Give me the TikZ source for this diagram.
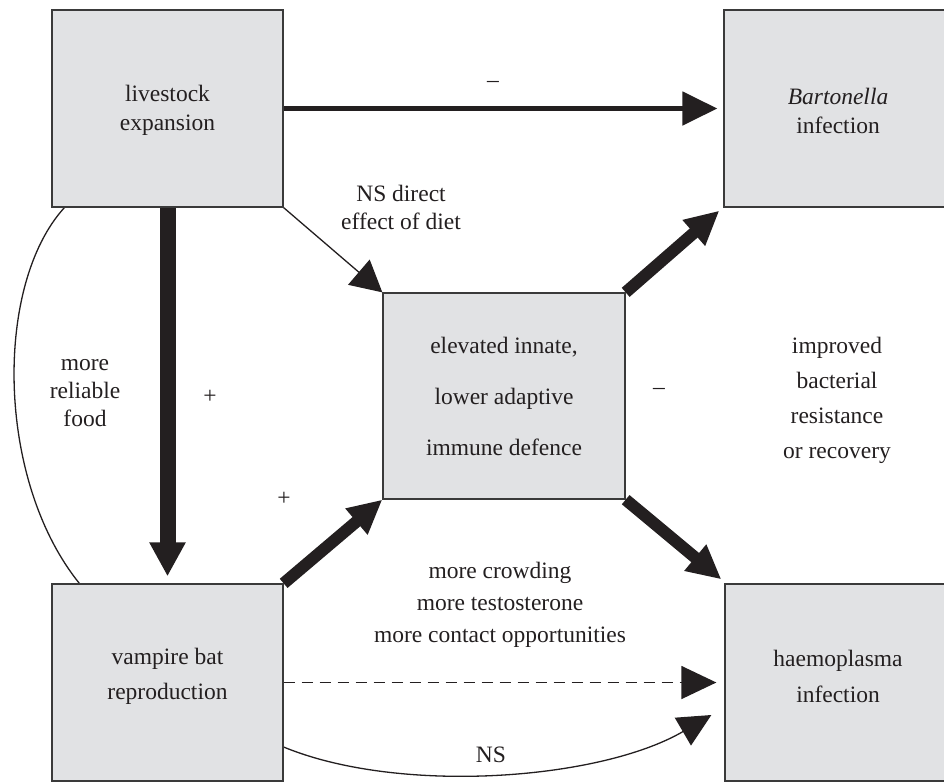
\documentclass[tikz,border=0pt]{standalone}
\usepackage{fontspec}
\setmainfont{Liberation Serif}
\usetikzlibrary{arrows.meta}
\definecolor{boxfill}{HTML}{E1E2E4}
\definecolor{boxline}{HTML}{3A3A3A}
\definecolor{ink}{HTML}{231F20}
\pgfdeclarelayer{bg}
\pgfsetlayers{bg,main}
\begin{document}
\begin{tikzpicture}[x=1pt,y=-1pt,
  box/.style={draw=boxline, line width=1.3pt, fill=boxfill, inner sep=0pt},
  lbl/.style={font=\fontsize{23.5}{29}\selectfont, align=center, text=ink, inner sep=0pt},
  bighead/.style={-{Triangle[length=35pt,width=33pt]}},
  thinarrow/.style={draw=ink, line width=1.3pt, -{Triangle[length=31pt,width=33pt]}},
  fatarrow/.style={draw=ink, line width=12pt, -{Triangle[length=34pt,width=32pt]}},
  plain/.style={draw=ink, line width=1.3pt}
]
\useasboundingbox (0,0) rectangle (944,782);
\clip (0,0) rectangle (944,782);

% boxes
\node[box, minimum width=231pt, minimum height=197pt] (A) at (167.5,108.5) {};
\node[box, minimum width=228pt, minimum height=197pt] (B) at (838,108.5) {};
\node[box, minimum width=242pt, minimum height=206pt] (M) at (504,396) {};
\node[box, minimum width=231pt, minimum height=197pt] (C) at (167.5,682.5) {};
\node[box, minimum width=228pt, minimum height=197pt] (D) at (839,682.5) {};

% box texts
\node[lbl] (tA) at (167.5,110) {livestock\\expansion};
\node[lbl] (tB) at (838,111) {\textit{Bartonella}\\infection};
\node[lbl, font=\fontsize{23.5}{51}\selectfont] (tM) at (504,396) {elevated innate,\\lower adaptive\\immune defence};
\node[lbl, font=\fontsize{23.5}{35}\selectfont] (tC) at (167.5,676) {vampire bat\\reproduction};
\node[lbl, font=\fontsize{23.5}{36}\selectfont] (tD) at (838,676) {haemoplasma\\infection};

\begin{pgfonlayer}{bg}
  % livestock -> Bartonella
  \draw[draw=ink, line width=5pt, bighead] (A.east) -- ([xshift=-6pt]B.west);
  % livestock -> reproduction
  \draw[draw=ink, line width=16pt, -{Triangle[length=34pt,width=34pt]}] (A.south) -- ([yshift=7pt]C.north);
  % livestock -> immune (thin)
  \draw[thinarrow] (A.south east) -- (M.north west);
  % immune -> Bartonella
  \draw[fatarrow] (M.north east) -- ([xshift=-4pt,yshift=-3pt]B.south west);
  % immune -> haemoplasma
  \draw[fatarrow] (M.south east) -- ([xshift=-3pt,yshift=4pt]D.north west);
  % reproduction -> immune
  \draw[fatarrow] (C.north east) -- (M.south west);
  % reproduction -> haemoplasma dashed
  \draw[draw=ink, line width=1.5pt, dash pattern=on 11pt off 7pt, bighead] (C.east) -- ([xshift=-8pt]D.west);
  % reproduction -> haemoplasma curved NS
  \draw[plain, -{Triangle[length=33pt,width=32pt]}] ([yshift=-64.5pt]C.east) .. controls (400,795) and (600,780) .. ([xshift=-13pt,yshift=-32.5pt]D.west);
  % left curve
  \draw[plain] ([xshift=13pt]A.south west) .. controls (-6,285) and (-4,480) .. ([xshift=28pt]C.north west);
\end{pgfonlayer}

% labels
\node[lbl] (m1) at (493,84) {–};
\node[lbl, font=\fontsize{23.5}{28}\selectfont] (ns1) at (401,207) {NS direct\\effect of diet};
\node[lbl, font=\fontsize{23.5}{28}\selectfont] (food) at (85,393) {more\\reliable\\food};
\node[lbl] (p1) at (210,397) {+};
\node[lbl] (p2) at (284,499) {+};
\node[lbl] (m2) at (659,391) {–};
\node[lbl, font=\fontsize{23.5}{35}\selectfont] (imp) at (837,400) {improved\\bacterial\\resistance\\or recovery};
\node[lbl, font=\fontsize{23.5}{32}\selectfont] (crowd) at (500,605) {more crowding\\more testosterone\\more contact opportunities};
\node[lbl] (ns2) at (491,755) {NS};
\end{tikzpicture}
\end{document}
